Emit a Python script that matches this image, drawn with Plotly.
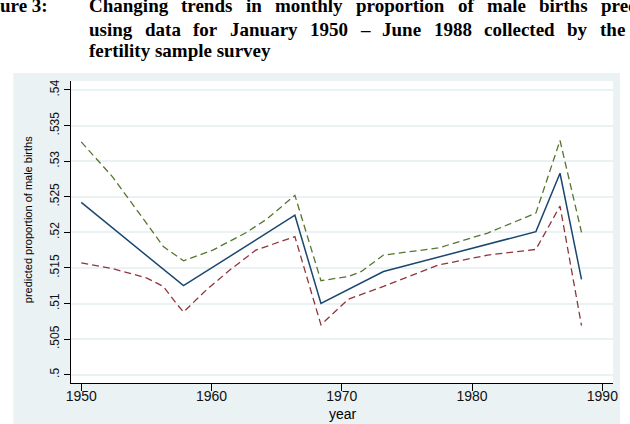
import plotly.graph_objects as go

# ---------------- data ----------------
est_years = [1950.0, 1957.85, 1966.4, 1968.4, 1973.2, 1984.9, 1986.75, 1988.4]
est_vals = [0.5242, 0.5125, 0.5224, 0.5100, 0.5145, 0.5201, 0.5283, 0.5134]

upper_years = [1950.0, 1952.4, 1955.0, 1956.3, 1957.85, 1960.1, 1962.6, 1964.2,
               1966.4, 1968.4, 1970.5, 1971.5, 1973.2, 1977.4, 1981.2, 1984.9,
               1986.75, 1988.4]
upper_vals = [0.5327, 0.5278, 0.5213, 0.5180, 0.5160, 0.5175, 0.5199, 0.5218,
              0.5252, 0.5132, 0.5138, 0.5145, 0.5168, 0.5178, 0.5199, 0.5227,
              0.5329, 0.5200]

lower_years = [1950.0, 1952.4, 1955.0, 1956.3, 1957.3, 1957.85, 1959.6, 1961.4,
               1963.4, 1966.4, 1968.4, 1970.5, 1973.2, 1977.4, 1981.2, 1984.9,
               1986.75, 1988.4]
lower_vals = [0.5157, 0.5149, 0.5136, 0.5124, 0.5100, 0.5088, 0.5119, 0.5147,
              0.5175, 0.5194, 0.5070, 0.5106, 0.5124, 0.5154, 0.5168, 0.5176,
              0.5237, 0.5069]

x_ticks = [1950, 1960, 1970, 1980, 1990]
y_ticks = [0.5, 0.505, 0.51, 0.515, 0.52, 0.525, 0.53, 0.535, 0.54]
y_ticktext = [".5", ".505", ".51", ".515", ".52", ".525", ".53", ".535", ".54"]

title_lines = [
    ["ure 3:", "Changing", "trends", "in", "monthly", "proportion", "of", "male", "births", "pred"],
    ["using", "data", "for", "January", "1950", "\u2013", "June", "1988", "collected", "by", "the"],
    ["fertility sample survey"],
]
x_title = "year"
y_title = "predicted proportion of male births"

# ---------------- layout geometry (pixels) ----------------
W, H = 630, 424
L, R, T, B = 71, 616, 81, 383
pw, ph = R - L, B - T


def px2x(px):
    return (px - L) / pw


def py2y(py):
    return (B - py) / ph


title_x_starts = [
    [-1, 88, 180.8, 246.1, 275.5, 356.7, 459.0, 488.4, 541.0, 603.2],
    [88, 144.0, 192.6, 229.6, 309.9, 360.6, 382.8, 434.6, 485.3, 568.7, 601.5],
    [88],
]
title_y_centers = [6, 29, 51]

fig = go.Figure()

fig.add_trace(go.Scatter(x=upper_years, y=upper_vals, mode="lines",
                         line=dict(color="#55752f", width=1.3, dash="7px,4px"),
                         showlegend=False))
fig.add_trace(go.Scatter(x=lower_years, y=lower_vals, mode="lines",
                         line=dict(color="#90353b", width=1.3, dash="7px,4px"),
                         showlegend=False))
fig.add_trace(go.Scatter(x=est_years, y=est_vals, mode="lines",
                         line=dict(color="#1a476f", width=1.5),
                         showlegend=False))

shapes = [
    dict(type="rect", xref="paper", yref="paper", layer="below",
         x0=px2x(13), x1=px2x(623), y0=py2y(440), y1=py2y(73),
         fillcolor="#eaf2f3", line=dict(width=0)),
    dict(type="rect", xref="paper", yref="paper", layer="below",
         x0=0, x1=1, y0=0, y1=1,
         fillcolor="#ffffff", line=dict(width=0)),
]

annotations = []
for words, starts, yc in zip(title_lines, title_x_starts, title_y_centers):
    for w, xs in zip(words, starts):
        annotations.append(dict(
            text="<b>%s</b>" % w, xref="paper", yref="paper",
            x=px2x(xs), y=py2y(yc), xanchor="left", yanchor="middle",
            showarrow=False, borderpad=0,
            font=dict(family="Liberation Serif", size=19, color="#000000")))

annotations.append(dict(text=x_title, xref="paper", yref="paper",
                        x=px2x(345), y=py2y(414), xanchor="center", yanchor="middle",
                        showarrow=False,
                        font=dict(family="Liberation Sans", size=14, color="#000000")))
annotations.append(dict(text=y_title, xref="paper", yref="paper",
                        x=px2x(28), y=py2y(220), xanchor="center", yanchor="middle",
                        textangle=-90, showarrow=False,
                        font=dict(family="Liberation Sans", size=11, color="#000000")))

fig.update_layout(
    width=W, height=H,
    margin=dict(l=L, r=W - R, t=T, b=H - B, pad=0),
    paper_bgcolor="#ffffff",
    plot_bgcolor="rgba(0,0,0,0)",
    shapes=shapes,
    annotations=annotations,
    showlegend=False,
    xaxis=dict(range=[1949.214, 1990.817], tickvals=x_ticks,
               ticktext=[str(v) for v in x_ticks],
               showgrid=False, zeroline=False,
               showline=True, linecolor="#000000", linewidth=1,
               ticks="outside", ticklen=7, tickcolor="#000000", tickwidth=1,
               ticklabelstandoff=-7,
               tickfont=dict(family="Liberation Sans", size=14, color="#111111")),
    yaxis=dict(range=[0.49883, 0.54126], tickvals=y_ticks, ticktext=y_ticktext,
               showgrid=True, gridcolor="#eaf2f3", gridwidth=1.5,
               zeroline=False,
               showline=True, linecolor="#000000", linewidth=1,
               ticks="outside", ticklen=6, tickcolor="#000000", tickwidth=1,
               tickangle=-90,
               tickfont=dict(family="Liberation Sans", size=12, color="#111111")),
)

fig.write_html("out.html")
